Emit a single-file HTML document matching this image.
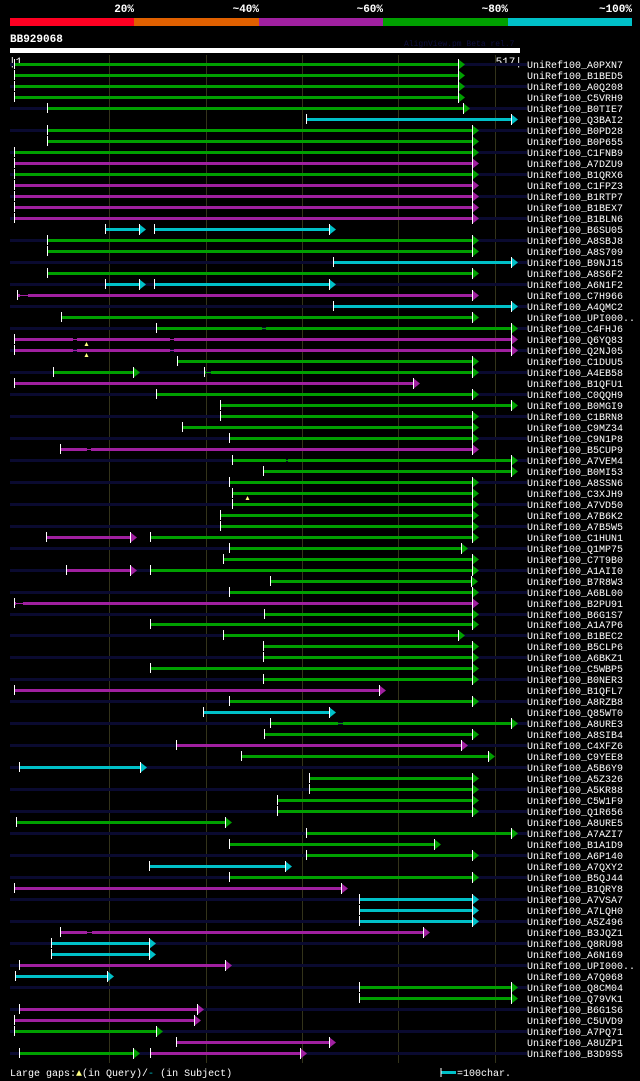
<!DOCTYPE html>
<html><head><meta charset="utf-8">
<style>
html,body{margin:0;padding:0;background:#000;}
body{width:640px;height:1081px;overflow:hidden;position:relative;font-family:"Liberation Mono",monospace;}
svg{position:absolute;left:0;top:0;}
</style></head>
<body>
<svg id="chart" width="640" height="1081">
  <g>
    <rect x="10" y="18" width="124" height="8" fill="#ff0022"/>
    <rect x="134" y="18" width="125" height="8" fill="#e06000"/>
    <rect x="259" y="18" width="124" height="8" fill="#a020a0"/>
    <rect x="383" y="18" width="125" height="8" fill="#00a000"/>
    <rect x="508" y="18" width="124" height="8" fill="#00c0c8"/>
    <g font-size="11" font-weight="bold" fill="#fff" text-anchor="end">
      <text x="134" y="12">20%</text>
      <text x="259" y="12">~40%</text>
      <text x="383" y="12">~60%</text>
      <text x="508" y="12">~80%</text>
      <text x="632" y="12">~100%</text>
    </g>
  </g>
  <text x="10" y="42" font-size="11" font-weight="bold" fill="#fff">BB929068</text>
  <text x="404" y="46" font-size="8" fill="#101040">AlignView.pm Beta rel.7</text>
  <rect x="10" y="48" width="510" height="5" fill="#fff"/>
  <text x="9" y="65" font-size="11" fill="#fff">|1</text>
  <text x="522" y="65" font-size="11" fill="#fff" text-anchor="end">517|</text>
  <g id="grid"></g>
  <g id="rows"></g>
  <g font-size="10" fill="#fff">
    <text x="10" y="1076">Large gaps:<tspan fill="#ffff80">▲</tspan>(in Query)/<tspan fill="#00c0c8">-</tspan> (in Subject)</text>
    <rect x="441" y="1071" width="15" height="3" fill="#00c0c8"/>
    <line x1="441" y1="1068" x2="441" y2="1077" stroke="#fff" stroke-width="1"/>
    <text x="457" y="1076">=100char.</text>
  </g>
</svg>
<script>
const queryLength = 517;
const gridTicks = [100, 200, 300, 400, 500];
const names = ["A0PXN7","B1BED5","A0Q208","C5VRH9","B0TIE7","Q3BAI2","B0PD28","B0P655","C1FNB9","A7DZU9","B1QRX6","C1FPZ3","B1RTP7","B1BEX7","B1BLN6","B6SU05","A8SBJ8","A8S709","B9NJ15","A8S6F2","A6N1F2","C7H966","A4QMC2","UPI000..","C4FHJ6","Q6YQ83","Q2NJ05","C1DUU5","A4EB58","B1QFU1","C0QQH9","B0MGI9","C1BRN8","C9MZ34","C9N1P8","B5CUP9","A7VEM4","B0MI53","A8SSN6","C3XJH9","A7VD50","A7B6K2","A7B5W5","C1HUN1","Q1MP75","C7T9B0","A1AII0","B7R8W3","A6BL00","B2PU91","B6G1S7","A1A7P6","B1BEC2","B5CLP6","A6BKZ1","C5WBP5","B0NER3","B1QFL7","A8RZB8","Q85WT0","A8URE3","A8SIB4","C4XFZ6","C9YEE8","A5B6Y9","A5Z326","A5KR88","C5W1F9","Q1R656","A8URE5","A7AZI7","B1A1D9","A6P140","A7QXY2","B5QJ44","B1QRY8","A7VSA7","A7LQH0","A5Z496","B3JQZ1","Q8RU98","A6N169","UPI000..","A7Q068","Q8CM04","Q79VK1","B6G1S6","C5UVD9","A7PQ71","A8UZP1","B3D9S5"];
// hits per row: [start, end, colorClass, gapStart, gapEnd...]
const hits = [
[[1,462,"G"]],[[1,462,"G"]],[[1,462,"G"]],[[1,462,"G"]],[[35,467,"G"]],
[[304,517,"C"]],[[35,477,"G"]],[[35,477,"G"]],[[1,477,"G"]],[[1,477,"M"]],
[[1,477,"G"]],[[1,477,"M"]],[[1,477,"M"]],[[1,477,"M"]],[[1,477,"M"]],
[[95,131,"C"],[146,328,"C"]],[[35,477,"G"]],[[35,477,"G"]],[[332,517,"C"]],[[35,477,"G"]],
[[95,131,"C"],[146,328,"C"]],[[4,477,"M",7,16]],[[332,517,"C"]],[[50,477,"G"]],[[148,517,"G",258,263]],
[[1,517,"M",62,66,163,167]],[[1,517,"M",62,66,163,167]],[[170,477,"G"]],[[42,125,"G"],[198,477,"G",200,206]],[[1,415,"M"]],
[[148,477,"G"]],[[215,517,"G"]],[[215,477,"G"]],[[175,477,"G"]],[[224,477,"G"]],
[[49,477,"M",77,81]],[[227,517,"G",283,285]],[[259,517,"G"]],[[224,477,"G"]],[[227,477,"G"]],
[[227,477,"G"]],[[215,477,"G"]],[[215,477,"G"]],[[34,121,"M"],[142,477,"G"]],[[224,465,"G"]],
[[218,477,"G"]],[[55,121,"M"],[142,477,"G"]],[[267,475,"G"]],[[224,477,"G"]],[[1,477,"M",3,10]],
[[261,477,"G"]],[[142,477,"G"]],[[218,462,"G"]],[[259,477,"G"]],[[259,477,"G"]],
[[142,477,"G"]],[[259,477,"G"]],[[1,380,"M"]],[[224,477,"G"]],[[197,328,"C"]],
[[267,517,"G",337,343]],[[261,477,"G"]],[[169,465,"M"]],[[237,493,"G"]],[[6,132,"C"]],
[[307,477,"G"]],[[307,477,"G"]],[[274,477,"G"]],[[274,477,"G"]],[[3,220,"G"]],
[[304,517,"G"]],[[224,437,"G"]],[[304,477,"G"]],[[141,282,"C"]],[[224,477,"G"]],
[[1,340,"M"]],[[359,477,"C"]],[[359,477,"C"]],[[359,477,"C"]],[[49,426,"M",77,82]],
[[39,141,"C"]],[[39,141,"C"]],[[6,220,"M"]],[[2,98,"C"]],[[359,517,"G"]],
[[359,517,"G"]],[[6,191,"M"]],[[1,188,"M"]],[[1,148,"G"]],[[169,328,"M"]],
[[6,125,"G"],[142,298,"M"]]
];
// query-gap markers: [rowIndex, queryPos]
const queryGaps = [[25,76],[26,76],[39,243]];
const colors = {G:"#00a000", M:"#a020a0", C:"#00c0c8"};

const NS = "http://www.w3.org/2000/svg";
const X0 = 14, X1 = 511;
function xScale(q){ return X0 + (q-1)*(X1-X0)/(queryLength-1); }
const ROW0 = 64, PITCH = 10.99;
function yScale(i){ return ROW0 + i*PITCH; }
function mk(tag, attrs, parent){
  const e = document.createElementNS(NS, tag);
  for (const k in attrs) e.setAttribute(k, attrs[k]);
  parent.appendChild(e); return e;
}
const grid = document.getElementById('grid');
gridTicks.forEach(t => {
  const l = mk('line', {x1:Math.round(xScale(t))+0.5, x2:Math.round(xScale(t))+0.5, y1:55, y2:1063, stroke:'#33331a', 'stroke-width':1}, grid);
  
  
});
const rowsG = document.getElementById('rows');
names.forEach((nm, i) => {
  const y = Math.round(yScale(i));
  const g = mk('g', {}, rowsG);
  
  
  if (i % 2 === 0) {
    const bg = mk('rect', {x:10, y:y-1, width:517, height:3, fill:'#0a0a30'}, g);
    
    
  }
  (hits[i]||[]).forEach(h => {
    const [s, e, c] = h;
    const col = colors[c];
    const xs = Math.round(xScale(s)), xe = Math.round(xScale(e));
    const gaps = [];
    for (let k = 3; k + 1 < h.length; k += 2) gaps.push([h[k], h[k+1]]);
    let cur = xs;
    gaps.forEach(gp => {
      const a = Math.round(xScale(gp[0])), b = Math.round(xScale(gp[1]));
      mk('rect', {x:cur, y:y-1, width:a-cur, height:3, fill:col}, g);
      mk('rect', {x:a, y:y, width:b-a, height:1, fill:col}, g);
      cur = b;
    });
    const bar = mk('rect', {x:cur, y:y-1, width:xe-cur, height:3, fill:col}, g);
    
    
    mk('rect', {x:xs, y:y-5, width:1, height:10, fill:'#fff'}, g);
    const ar = mk('polygon', {points:`${xe},${y-5} ${xe+7},${y+0.5} ${xe},${y+6}`, fill:col}, g);
    
    
    mk('rect', {x:xe, y:y-5, width:1, height:11, fill:'#fff'}, g);
  });
  const t = mk('text', {x:527, y:y+4, 'font-size':10, fill:'#fff'}, g);
  t.textContent = 'UniRef100_' + nm;
  
  
});
queryGaps.forEach(([r, q]) => {
  const y = Math.round(yScale(r));
  const x = Math.round(xScale(q));
  const m = mk('polygon', {points:`${x-1.5},${y+7} ${x+2.5},${y+7} ${x+0.5},${y+3}`, fill:'#ffff80'}, rowsG);
  
  
});
</script>
</body></html>
